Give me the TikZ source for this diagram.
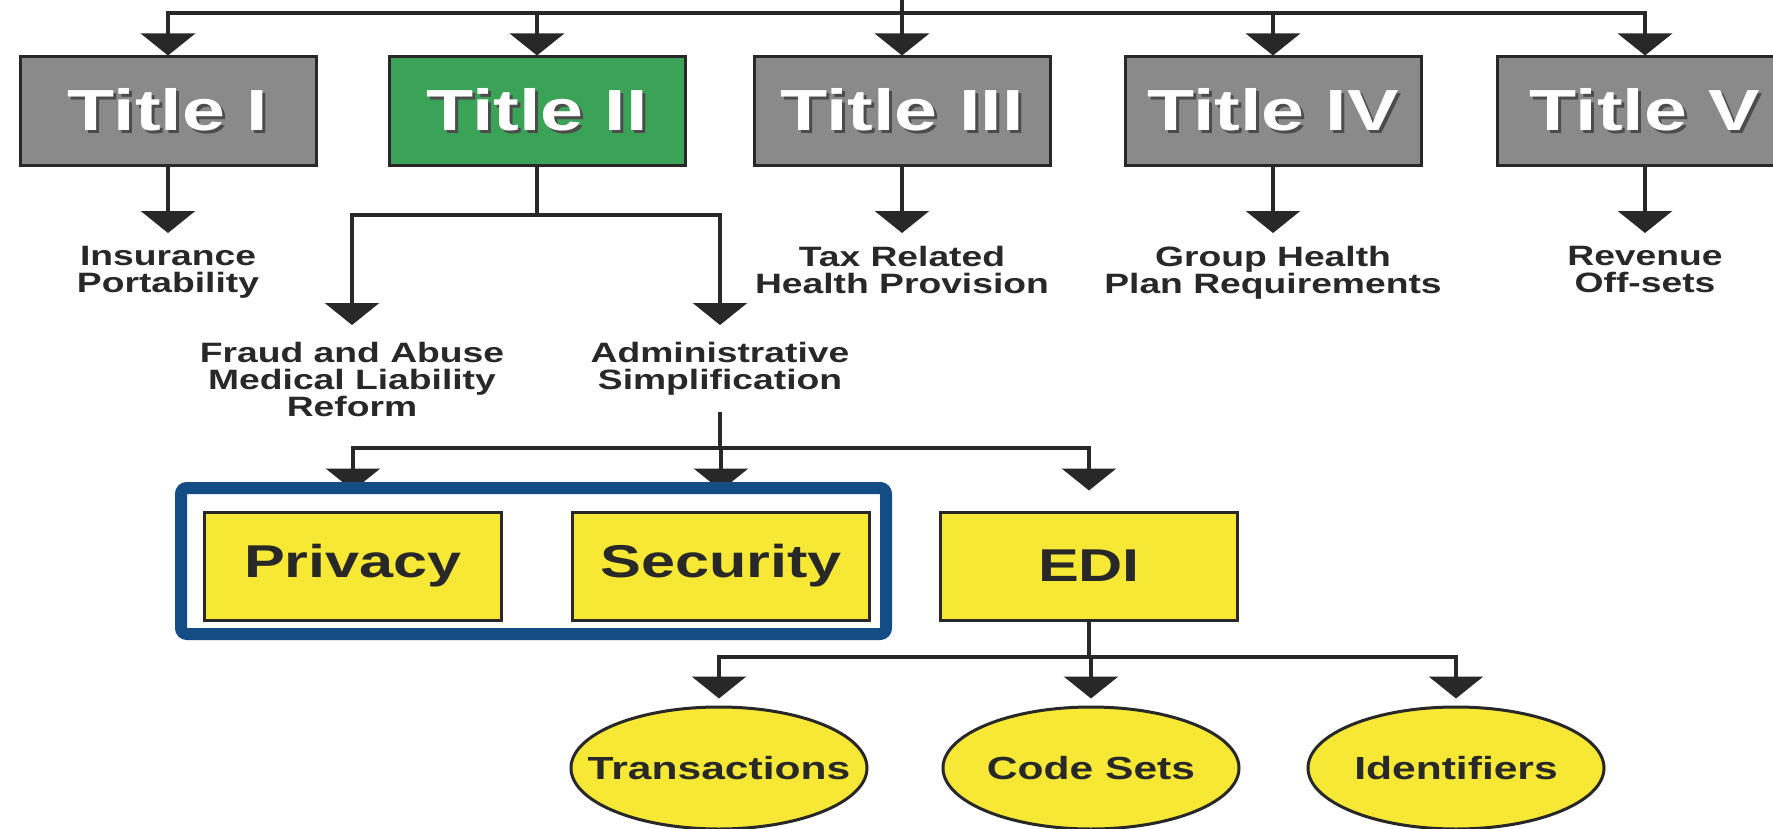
\documentclass[tikz,border=0pt]{standalone}
\usepackage{fontspec}
\usepackage{tikz}
\usetikzlibrary{arrows.meta,shapes.geometric}
\newfontfamily\hipaafont{Liberation Sans}[FakeStretch=1.33]
\definecolor{titlegray}{RGB}{138,138,138}
\definecolor{titlegreen}{RGB}{58,163,88}
\definecolor{ruleyellow}{RGB}{246,232,52}
\definecolor{frameblue}{RGB}{20,76,134}
\definecolor{linegray}{RGB}{40,40,40}
\newcommand*{\shtext}[1]{\leavevmode\rlap{\kern1.5pt\raisebox{-1.5pt}{\color{black!70}#1}}#1}

\begin{document}
\begin{tikzpicture}[x=0.5pt, y=-0.5pt,
    line/.style={draw=linegray, line width=1.7pt},
    arr/.style={line, -{Triangle[width=27pt,length=11pt]}},
    lbl/.style={inner sep=0pt, align=center, text=linegray,
      font=\hipaafont\bfseries\fontsize{14}{13.5}\selectfont}]
  \useasboundingbox (0,0) rectangle (1773,829);

  {\tikzstyle{every node}=[rectangle, draw=linegray, line width=1.5pt,
      minimum width=148pt, minimum height=54.5pt, text=white,
      font=\hipaafont\bfseries\fontsize{29}{30}\selectfont]
    \foreach \i/\x/\num/\col in {1/168/I/titlegray, 2/537/II/titlegreen,
        3/902/III/titlegray, 4/1273/IV/titlegray, 5/1645/V/titlegray}
    {
      \node[fill=\col] (t\i) at (\x, 111.5) {\shtext{Title \num}};
    }
  }

  \node[lbl, anchor=north] (ins) at (168,246) {Insurance\\Portability};
  \node[lbl, anchor=north] (tax) at (902,246) {Tax Related\\Health Provision};
  \node[lbl, anchor=north] (grp) at (1273,246) {Group Health\\Plan Requirements};
  \node[lbl, anchor=north] (rev) at (1645,246) {Revenue\\Off-sets};
  \node[lbl, anchor=north] (fraud) at (352,342) {Fraud and Abuse\\Medical Liability\\Reform};
  \node[lbl, anchor=north] (admin) at (720,342) {Administrative\\Simplification};

  {\tikzstyle{every node}=[rectangle, draw=linegray, line width=1.5pt,
      fill=ruleyellow, minimum width=148.5pt, minimum height=54pt, text=linegray,
      font=\hipaafont\bfseries\fontsize{23}{24}\selectfont]
    \node (priv) at (353,566) {Privacy};
    \node (sec) at (721,566) {Security};
    \node (edi) at (1089,566) {EDI};
  }

  {\tikzstyle{every node}=[ellipse, draw=linegray, line width=1.5pt,
      fill=ruleyellow, minimum width=148pt, minimum height=61pt, inner sep=0pt,
      text=linegray, font=\hipaafont\bfseries\fontsize{16}{17}\selectfont]
    \node (trans) at (719,768) {\makebox[0pt]{Transactions}};
    \node (codes) at (1091,768) {\makebox[0pt]{Code Sets}};
    \node (ids) at (1456,768) {\makebox[0pt]{Identifiers}};
  }

  \coordinate (top) at (902,0);
  \coordinate (bus) at (902,13);
  \coordinate (split) at (537,215);
  \coordinate (split2) at (720,448);
  \coordinate (split3) at (1089,657);

  \draw[line] (top) -- (bus);
  \foreach \i in {1,...,5}
    \draw[arr] (bus) -| (t\i);
  \foreach \t/\l in {t1/ins, t3/tax, t4/grp, t5/rev}
    \draw[arr, shorten >=6.5pt] (\t) -- (\t.south |- \l.north);

  \draw[line] (t2) -- (split);
  \draw[arr, shorten >=8.5pt] (split) -| (fraud);
  \draw[arr, shorten >=8.5pt] (split) -| (admin);

  \draw[line, shorten <=8pt] (admin) -- (split2);
  \foreach \b in {priv, sec, edi}
    \draw[arr, shorten >=10pt] (split2) -| (\b);

  \draw[line] (edi) -- (split3);
  \foreach \e in {trans, codes, ids}
    \draw[arr, shorten >=3.5pt] (split3) -| (\e);

  \draw[frameblue, line width=6pt, rounded corners=3pt] (181,488) rectangle (886,634);
\end{tikzpicture}
\end{document}
